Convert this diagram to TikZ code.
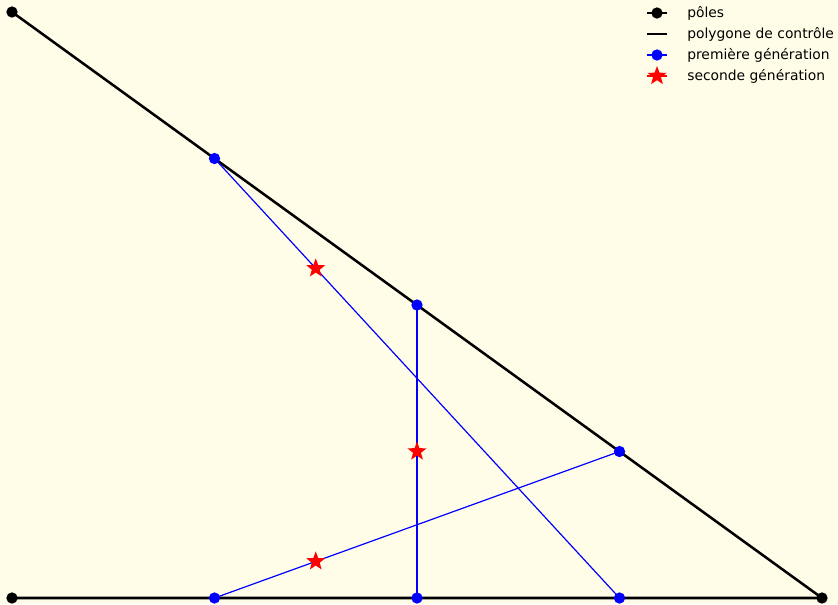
\documentclass[tikz,border=0pt]{standalone}
\usepackage{fontspec}
\setmainfont{DejaVu Sans}
\usetikzlibrary{shapes.geometric,calc}
\definecolor{bgivory}{RGB}{255,253,232}
\definecolor{genblue}{RGB}{0,0,255}
\definecolor{genred}{RGB}{255,0,0}
\tikzset{
  pole/.style={circle,fill=black,inner sep=0pt,minimum size=8.5pt},
  firstpt/.style={circle,fill=genblue,inner sep=0pt,minimum size=8.5pt},
  secondpt/.style={star,star points=5,star point ratio=2.4,fill=genred,inner sep=0pt,minimum size=15pt},
  ctrl/.style={line width=1.9pt,black},
  gen/.style={line width=0.9pt,genblue},
  legtext/.style={anchor=west,inner sep=0pt,font=\fontsize{10.4}{12}\selectfont}
}
\begin{document}
\begin{tikzpicture}[x=0.75pt,y=-0.75pt]
  % Background
  \fill[bgivory] (0,0) rectangle (838,604);
  \useasboundingbox (0,0) rectangle (838,604);
  % Poles
  \coordinate (p0) at (12,12);
  \coordinate (p1) at (822,598);
  \coordinate (p2) at (12,598);
  % First generation
  \coordinate (a1) at ($(p0)!0.25!(p1)$);
  \coordinate (a2) at ($(p0)!0.5!(p1)$);
  \coordinate (a3) at ($(p0)!0.75!(p1)$);
  \coordinate (b1) at ($(p2)!0.75!(p1)$);
  \coordinate (b2) at ($(p2)!0.5!(p1)$);
  \coordinate (b3) at ($(p2)!0.25!(p1)$);
  % Second generation
  \coordinate (c1) at ($(a1)!0.25!(b1)$);
  \coordinate (c2) at ($(a2)!0.5!(b2)$);
  \coordinate (c3) at ($(a3)!0.75!(b3)$);
  % Control polygon
  \draw[ctrl] (p0) -- (p1) -- (p2);
  % Segments between first-generation points
  \draw[gen] (a1) -- (b1);
  \draw[gen] (a2) -- (b2);
  \draw[gen] (a3) -- (b3);
  % Markers
  \foreach \p in {p0,p1,p2} \node[pole] at (\p) {};
  \foreach \p in {a1,a2,a3,b1,b2,b3} \node[firstpt] at (\p) {};
  \foreach \p in {c1,c2,c3} \node[secondpt] at (\p) {};
  % Legend
  \coordinate (l1) at (647,13);
  \coordinate (r1) at (667,13);
  \draw[black,line width=1pt] (l1) -- (r1);
  \node[pole] at ($(l1)!0.5!(r1)$) {};
  \node[legtext] (t1) at (687,13) {pôles};
  \coordinate (l2) at (647,34);
  \coordinate (r2) at (667,34);
  \draw[ctrl] (l2) -- (r2);
  \node[legtext] (t2) at (687,34) {polygone de contrôle};
  \coordinate (l3) at (647,55);
  \coordinate (r3) at (667,55);
  \draw[gen] (l3) -- (r3);
  \node[firstpt] at ($(l3)!0.5!(r3)$) {};
  \node[legtext] (t3) at (687,55) {première génération};
  \coordinate (l4) at (647,76);
  \coordinate (r4) at (667,76);
  \draw[genred,line width=0.9pt] (l4) -- (r4);
  \node[secondpt] at ($(l4)!0.5!(r4)$) {};
  \node[legtext] (t4) at (687,76) {seconde génération};
\end{tikzpicture}
\end{document}
